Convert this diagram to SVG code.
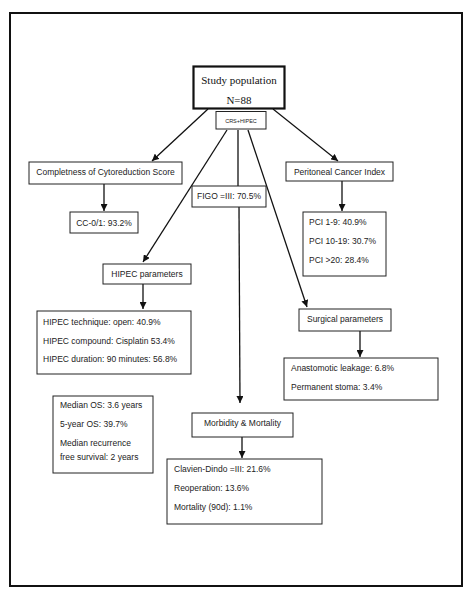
<svg xmlns="http://www.w3.org/2000/svg" width="474" height="597" viewBox="0 0 474 597">
<style>
.bx{fill:#fff;stroke:#222;stroke-width:1}
.t{font-family:"Liberation Sans",Arial,sans-serif;font-size:8.5px;fill:#222}
.c{text-anchor:middle}
.s{font-family:"Liberation Serif","Times New Roman",serif;font-size:11px;fill:#111;text-anchor:middle}
.ln{stroke:#111;stroke-width:1.3;fill:none}
</style>
<defs>
<marker id="ah" markerUnits="userSpaceOnUse" markerWidth="8" markerHeight="7" refX="7" refY="3.5" orient="auto">
<path d="M0,0 L7,3.5 L0,7 z" fill="#111"/>
</marker>
</defs>
<rect x="0" y="0" width="474" height="597" fill="#fff"/>
<rect x="10" y="13" width="452" height="573" fill="none" stroke="#111" stroke-width="2"/>
<g id="connectors">
<line class="ln" x1="208" y1="109" x2="152" y2="161" marker-end="url(#ah)"/>
<line class="ln" x1="273" y1="109" x2="338" y2="161" marker-end="url(#ah)"/>
<line class="ln" x1="104" y1="184" x2="104" y2="211" marker-end="url(#ah)"/>
<line class="ln" x1="342" y1="181" x2="342" y2="211" marker-end="url(#ah)"/>
<line class="ln" x1="227" y1="130" x2="143" y2="262" marker-end="url(#ah)"/>
<line class="ln" x1="238" y1="130" x2="238" y2="186"/>
<line class="ln" x1="248" y1="130" x2="307" y2="307" marker-end="url(#ah)"/>
<line class="ln" x1="239" y1="207" x2="240" y2="403" marker-end="url(#ah)"/>
<line class="ln" x1="143" y1="284" x2="143" y2="309" marker-end="url(#ah)"/>
<line class="ln" x1="360" y1="331" x2="360" y2="357" marker-end="url(#ah)"/>
<line class="ln" x1="242" y1="437" x2="242" y2="458" marker-end="url(#ah)"/>
</g>
<g id="study">
<rect x="193.5" y="66.5" width="91" height="42" fill="#fff" stroke="#111" stroke-width="2.2"/>
<text class="s" x="239" y="84">Study population</text>
<text class="s" x="239" y="104">N=88</text>
</g>
<g id="crs">
<rect class="bx" x="216" y="111.5" width="50" height="17.5"/>
<text class="t c" x="241" y="122.5" style="font-size:5.5px">CRS+HIPEC</text>
</g>
<g id="ccs">
<rect class="bx" x="29" y="162" width="153" height="22"/>
<text class="t c" x="105.5" y="175">Completness of Cytoreduction Score</text>
</g>
<g id="pci-title">
<rect class="bx" x="286" y="162" width="107" height="19"/>
<text class="t c" x="339.5" y="174.5">Peritoneal Cancer Index</text>
</g>
<g id="figo">
<rect class="bx" x="192" y="186" width="74" height="21"/>
<text class="t c" x="229" y="199">FIGO =III: 70.5%</text>
</g>
<g id="cc">
<rect class="bx" x="70" y="212" width="68" height="21"/>
<text class="t c" x="104" y="225.5">CC-0/1: 93.2%</text>
</g>
<g id="pci">
<rect class="bx" x="303" y="212" width="83" height="64"/>
<text class="t" x="309" y="225">PCI 1-9: 40.9%</text>
<text class="t" x="309" y="244">PCI 10-19: 30.7%</text>
<text class="t" x="309" y="263">PCI &gt;20: 28.4%</text>
</g>
<g id="hipec-title">
<rect class="bx" x="103" y="264" width="88" height="20"/>
<text class="t c" x="147" y="276.5">HIPEC parameters</text>
</g>
<g id="hipec">
<rect class="bx" x="37" y="311" width="154" height="63"/>
<text class="t" x="43" y="325">HIPEC technique: open: 40.9%</text>
<text class="t" x="43" y="344">HIPEC compound: Cisplatin 53.4%</text>
<text class="t" x="43" y="362">HIPEC duration: 90 minutes: 56.8%</text>
</g>
<g id="surg-title">
<rect class="bx" x="299" y="309" width="92" height="22"/>
<text class="t c" x="345" y="321.5">Surgical parameters</text>
</g>
<g id="surg">
<rect class="bx" x="284" y="358" width="154" height="42"/>
<text class="t" x="291" y="371">Anastomotic leakage: 6.8%</text>
<text class="t" x="291" y="390">Permanent stoma: 3.4%</text>
</g>
<g id="survival">
<rect class="bx" x="53" y="396" width="100" height="77"/>
<text class="t" x="60" y="408">Median OS: 3.6 years</text>
<text class="t" x="60" y="427">5-year OS: 39.7%</text>
<text class="t" x="60" y="446">Median recurrence</text>
<text class="t" x="60" y="460">free survival: 2 years</text>
</g>
<g id="morb-title">
<rect class="bx" x="192" y="413" width="101" height="24"/>
<text class="t c" x="242.5" y="426">Morbidity &amp; Mortality</text>
</g>
<g id="morb">
<rect class="bx" x="167" y="459" width="155" height="65"/>
<text class="t" x="174" y="472">Clavien-Dindo =III: 21.6%</text>
<text class="t" x="174" y="491">Reoperation: 13.6%</text>
<text class="t" x="174" y="510">Mortality (90d): 1.1%</text>
</g>
</svg>
